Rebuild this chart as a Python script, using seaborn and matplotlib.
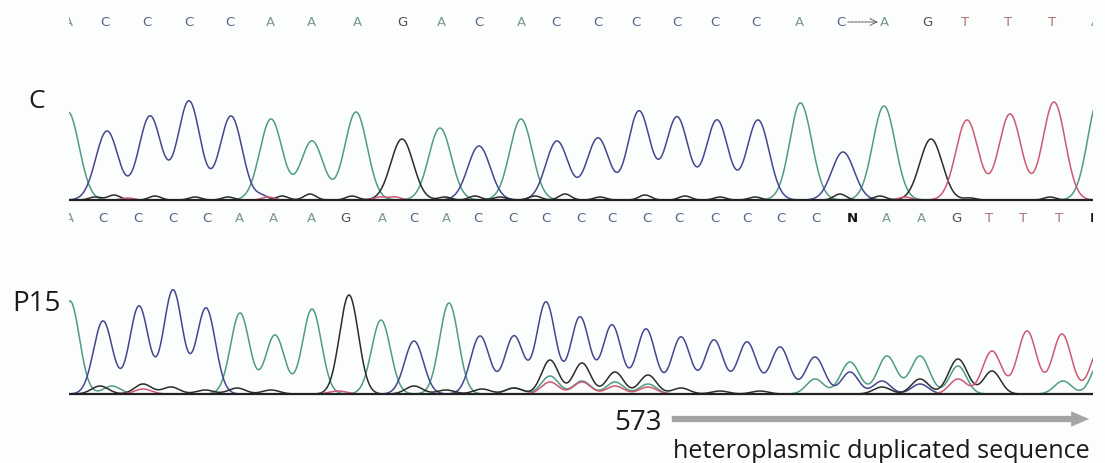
import numpy as np
import pandas as pd
import matplotlib
matplotlib.use("Agg")
import matplotlib.pyplot as plt
from matplotlib.patches import FancyArrowPatch
import seaborn as sns

# ---- base calls written above / below the traces ----
c_calls = list("ACCCCAAAGACACCCCCCACAGTTTA")
c_call_x = [68, 105, 147, 189, 230, 270, 311, 357, 402, 441, 479, 521, 556,
            598, 636, 677, 715, 756, 799, 841, 884, 927, 965, 1008, 1052, 1095]

p15_calls = list("ACCCCAAAGACACCCCCCCCCCCNAAGTTTN")
p15_call_x = [69, 103, 138, 173, 207, 239, 273, 311, 345, 382, 414, 446, 478,
              513, 546, 581, 612, 647, 679, 715, 747, 781, 816, 852, 886, 921,
              956, 989, 1023, 1059, 1095]

# ---- control (C) trace: main peaks (scan position, dye, height) ----
c_peak_x = [68, 107, 150, 189, 231, 271, 312, 356, 402, 440, 479, 521, 557,
            598, 639, 677, 717, 758, 801, 843, 884, 931, 967, 1010, 1054, 1099]
c_peak_dye = list("ACCCCAAAGACACCCCCCACAGTTTA")
c_peak_h = [88, 69, 84, 99, 84, 81, 59, 88, 61, 72, 54, 81, 59,
            62, 89, 83, 80, 80, 93, 48, 94, 61, 80, 86, 98, 102]

# small baseline noise in the control
c_minor_x = [95, 114, 128, 155, 195, 228, 262, 268, 282, 310, 352, 380, 395,
             445, 475, 500, 535, 565, 600, 645, 685, 720, 755, 797, 840, 880,
             905, 970, 1050]
c_minor_dye = list("GGTGGGCTGGGTTGGGGGGGGGGAGGTGG")
c_minor_h = [3, 5, 2, 4, 3, 3, 4, 3, 4, 6, 4, 3, 3,
             3, 4, 3, 4, 6, 3, 5, 4, 3, 3, 5, 6, 4,
             3, 2, 3]

# ---- patient P15 trace: main peaks ----
p15_peak_x = [70, 103, 139, 173, 206, 240, 275, 312, 349, 381, 414, 449, 480,
              514, 546, 580, 612, 646, 681, 714, 747, 780, 815, 850, 887, 920,
              958, 992, 1027, 1062, 1100]
p15_peak_dye = list("ACCCCAAAGACACCCCCCCCCCCAAAGTTTT")
p15_peak_h = [93, 73, 88, 104, 86, 81, 59, 85, 99, 74, 53, 91, 58,
              58, 92, 77, 69, 65, 57, 54, 52, 47, 37, 32, 38, 38,
              35, 43, 63, 60, 46]

# secondary (duplicated) signal and noise in P15
p15_minor_x = [100, 112, 143, 143, 171, 205, 237, 271, 338, 414, 446, 482, 514,
               514, 550, 582, 615, 648, 681, 550, 582, 615, 648, 550, 582, 615,
               648, 720, 760, 815, 850, 882, 920, 882, 920, 958, 958, 992, 1063,
               1100]
p15_minor_dye = list("GAGTGGGGTGGGAG" "GGGGG" "AAAA" "TTTT" "GG" "ACCCGGATGAA")
p15_minor_h = [8, 8, 10, 5, 7, 4, 6, 4, 3, 8, 4, 5, 6,
               6, 34, 31, 22, 19, 6, 18, 13, 12, 10, 12, 12, 8,
               7, 3, 3, 15, 22, 13, 10, 7, 15, 28, 15, 23, 13,
               32]

dye_colors = {"A": "#4f9c84", "C": "#46468f", "G": "#2b2b2b", "T": "#cf5872"}
call_colors = {"A": "#7a9a8a", "C": "#5e5e86", "G": "#505050",
               "T": "#ad7272", "N": "#111111"}

W, H = 1105, 464
X0, X1 = 69, 1093


def build_trace(px, dye, h, sigma, xs):
    sig = {d: np.zeros_like(xs) for d in "ACGT"}
    for p, d, hh, s in zip(px, dye, h, sigma):
        sig[d] += hh * np.exp(-(xs - p) ** 2 / (2 * s ** 2))
    return pd.concat([pd.DataFrame({"scan": xs, "signal": sig[d], "dye": d})
                      for d in "ACGT"], ignore_index=True)


def panel_axes(fig, top_px, bottom_px):
    return fig.add_axes([X0 / W, 1 - bottom_px / H,
                         (X1 - X0) / W, (bottom_px - top_px) / H])


sns.set_theme(style="white")
plt.rcParams["font.family"] = ["DejaVu Sans"]

fig = plt.figure(figsize=(W / 100, H / 100), dpi=100)
fig.patch.set_facecolor("#fcfdfd")

xs = np.linspace(40, 1120, 3000)
# (peaks..., sigmas, axes top px, axes bottom px, baseline px)
panels = [
    (c_peak_x + c_minor_x, c_peak_dye + c_minor_dye, c_peak_h + c_minor_h,
     [11.2] * len(c_peak_x) + [6.0] * len(c_minor_x), 85, 206, 201),
    (p15_peak_x + p15_minor_x, p15_peak_dye + p15_minor_dye,
     p15_peak_h + p15_minor_h,
     [9.4] * len(p15_peak_x) + [8.5] * len(p15_minor_x), 280, 400, 395),
]
for px, dye, h, sg, top, bottom, base in panels:
    ax = panel_axes(fig, top, bottom)
    df = build_trace(px, dye, h, sg, xs)
    sns.lineplot(data=df, x="scan", y="signal", hue="dye", palette=dye_colors,
                 estimator=None, legend=False, linewidth=1.1, ax=ax)
    ax.axhline(0, color="#222222", linewidth=1.6)
    ax.set_xlim(X0, X1)
    ax.set_ylim(-(bottom - base), base - top)
    ax.axis("off")

# base call rows
for calls, cx, top, bottom in [(c_calls, c_call_x, 10, 36),
                               (p15_calls, p15_call_x, 206, 232)]:
    sax = panel_axes(fig, top, bottom)
    sax.set_xlim(X0, X1)
    sax.set_ylim(0, 1)
    sax.axis("off")
    for b, x in zip(calls, cx):
        sax.text(x, 0.5, b, ha="center", va="center", fontsize=9.5,
                 color=call_colors[b], fontweight="bold" if b == "N" else "normal",
                 clip_on=True)
    if calls is c_calls:
        sax.annotate("", xy=(878, 0.5), xytext=(848, 0.5),
                     arrowprops=dict(arrowstyle="->", linestyle=(0, (2, 1)),
                                     color="#666666", lw=0.8, shrinkA=0, shrinkB=0))

label_font = ["Open Sans", "DejaVu Sans"]
fig.text(37 / W, 1 - 102 / H, "C", ha="center", va="center",
         fontsize=19, family=label_font, color="#1a1a1a")
fig.text(61 / W, 1 - 304 / H, "P15", ha="right", va="center",
         fontsize=20, family=label_font, color="#1a1a1a")
fig.text(662 / W, 1 - 423 / H, "573", ha="right", va="center",
         fontsize=20, family=label_font, color="#1a1a1a")
fig.text(1090 / W, 1 - 458 / H, "heteroplasmic duplicated sequence",
         ha="right", va="baseline", fontsize=18.2, family=label_font,
         color="#1a1a1a")

arrow = FancyArrowPatch((669, H - 420), (1092, H - 420), transform=None,
                        arrowstyle="simple,head_length=1.3,head_width=1.1,tail_width=0.45",
                        mutation_scale=10, color="#a4a4a4", linewidth=0)
fig.patches.append(arrow)

fig.savefig("out.png", dpi=100, facecolor=fig.get_facecolor())
